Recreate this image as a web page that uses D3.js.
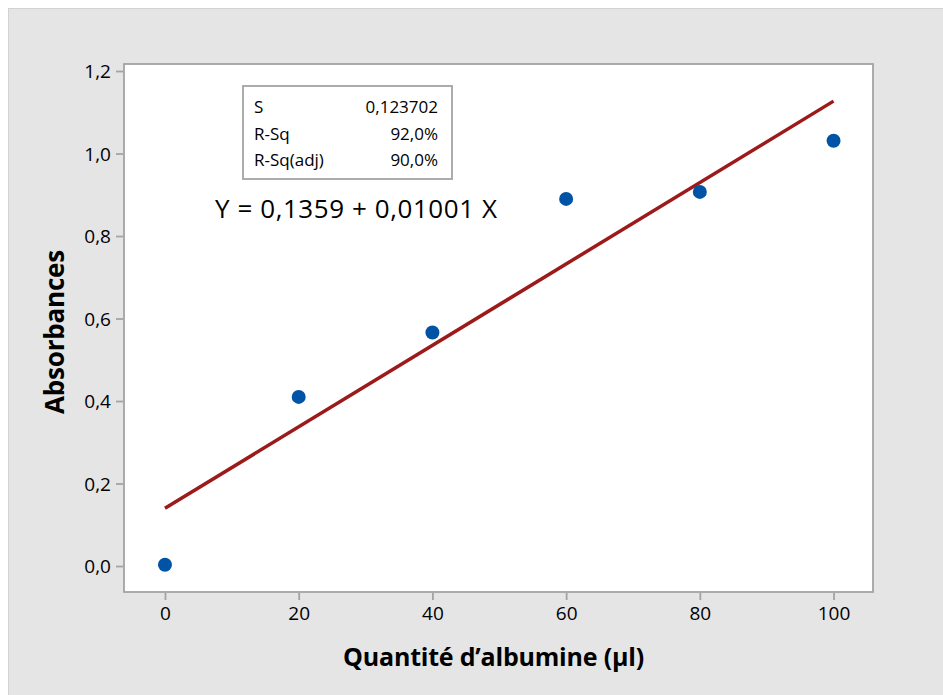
<!DOCTYPE html>
<html>
<head>
<meta charset="utf-8">
<script src="https://cdn.jsdelivr.net/npm/d3@7"></script>
<style>
  html, body { margin: 0; padding: 0; background: #ffffff; }
  svg { display: block; }
  text { font-family: "Open Sans", "Noto Sans", sans-serif; fill: #000; }
</style>
</head>
<body>
<div id="chart"></div>
<script>

// ---- data ----
var vnQuantite = [0, 20, 40, 60, 80, 100];
var vfAbsorbance = [0.003, 0.410, 0.566, 0.890, 0.907, 1.031];

// fitted line at its two ends
var vnFitX = [0, 100];
var vfFitY = [0.140, 1.127];

var vnTicksX = [0, 20, 40, 60, 80, 100];
var vfTicksY = [0.0, 0.2, 0.4, 0.6, 0.8, 1.0, 1.2];

var vsStatNames = ["S", "R-Sq", "R-Sq(adj)"];
var vsStatValues = ["0,123702", "92,0%", "90,0%"];

var sEquation = "Y = 0,1359 + 0,01001 X";
var sTitleX = "Quantité d\u2019albumine (µl)";
var sTitleY = "Absorbances";

// ---- layout ----
var nW = 943, nH = 695;
var nLeft = 124, nTop = 64, nRight = 873, nBottom = 592;

var colorBack = "#e5e5e5";
var colorFrame = "#a3a3a3";
var colorPoint = "#0053a5";
var colorFit = "#9c1a1a";

var svg = d3.select("#chart").append("svg")
            .attr("width", nW)
            .attr("height", nH);

svg.append("rect")
    .attr("x", 8.5).attr("y", 8.5)
    .attr("width", nW).attr("height", nH)
    .attr("fill", colorBack)
    .attr("stroke", "#d2d2d2")
    .attr("stroke-width", 1);

var x = d3.scaleLinear().domain([-6.13, 105.9]).range([nLeft, nRight]);
var y = d3.scaleLinear().domain([-0.0630, 1.2170]).range([nBottom, nTop]);

svg.append("rect")
    .attr("x", nLeft).attr("y", nTop)
    .attr("width", nRight - nLeft).attr("height", nBottom - nTop)
    .attr("fill", "#ffffff")
    .attr("stroke", colorFrame)
    .attr("stroke-width", 1.8);

var fmtComma = function(d) { return d3.format(".1f")(d).replace(".", ","); };

var axisX = d3.axisBottom(x).tickValues(vnTicksX).tickSize(7).tickPadding(5).tickFormat(d3.format("d"));
var axisY = d3.axisLeft(y).tickValues(vfTicksY).tickSize(7).tickPadding(5).tickFormat(fmtComma);

var gX = svg.append("g").attr("transform", "translate(0," + (nBottom + 1) + ")").call(axisX);
var gY = svg.append("g").attr("transform", "translate(" + (nLeft - 1) + ",0)").call(axisY);

[gX, gY].forEach(function(g) {
    g.select(".domain").remove();
    g.selectAll(".tick line").attr("stroke", colorFrame).attr("stroke-width", 1.8);
    g.selectAll(".tick text")
        .attr("font-size", "19px")
        .attr("font-family", "\"Open Sans\", sans-serif")
        .attr("fill", "#000");
});
gY.selectAll(".tick text").attr("dy", "0.36em");
gX.selectAll(".tick text").attr("dy", "0.8em");

// axis titles
svg.append("text")
    .attr("x", (nLeft + nRight) / 2 - 5)
    .attr("y", 666)
    .attr("text-anchor", "middle")
    .attr("font-size", "25px")
    .attr("font-weight", "bold")
    .attr("letter-spacing", "-0.2px")
    .text(sTitleX);

svg.append("text")
    .attr("transform", "translate(64,332) rotate(-90)")
    .attr("text-anchor", "middle")
    .attr("font-size", "26px")
    .attr("font-weight", "bold")
    .attr("letter-spacing", "-0.2px")
    .text(sTitleY);

// fitted line
var line = d3.line().x(function(d) { return x(d[0]); }).y(function(d) { return y(d[1]); });

svg.append("path")
    .datum(d3.zip(vnFitX, vfFitY))
    .attr("d", line)
    .attr("fill", "none")
    .attr("stroke", colorFit)
    .attr("stroke-width", 3.5);

// points
svg.selectAll("circle.pt")
    .data(d3.zip(vnQuantite, vfAbsorbance))
    .enter()
    .append("circle")
        .attr("class", "pt")
        .attr("cx", function(d) { return x(d[0]); })
        .attr("cy", function(d) { return y(d[1]); })
        .attr("r", 7)
        .attr("fill", colorPoint);

// stats box
var nBoxX = 243, nBoxY = 86, nBoxW = 209, nBoxH = 93;

svg.append("rect")
    .attr("x", nBoxX).attr("y", nBoxY)
    .attr("width", nBoxW).attr("height", nBoxH)
    .attr("fill", "#ffffff")
    .attr("stroke", colorFrame)
    .attr("stroke-width", 1.8);

vsStatNames.forEach(function(s, i) {
    svg.append("text")
        .attr("x", nBoxX + 11)
        .attr("y", nBoxY + 27 + i * 26.5)
        .attr("font-size", "17px")
        .text(s);
    svg.append("text")
        .attr("x", nBoxX + nBoxW - 14)
        .attr("y", nBoxY + 27 + i * 26.5)
        .attr("text-anchor", "end")
        .attr("font-size", "17px")
        .text(vsStatValues[i]);
});

// equation
svg.append("text")
    .attr("x", 215)
    .attr("y", 218)
    .attr("font-size", "26px")
    .attr("textLength", 282)
    .attr("lengthAdjust", "spacing")
    .text(sEquation);

</script>
</body>
</html>
